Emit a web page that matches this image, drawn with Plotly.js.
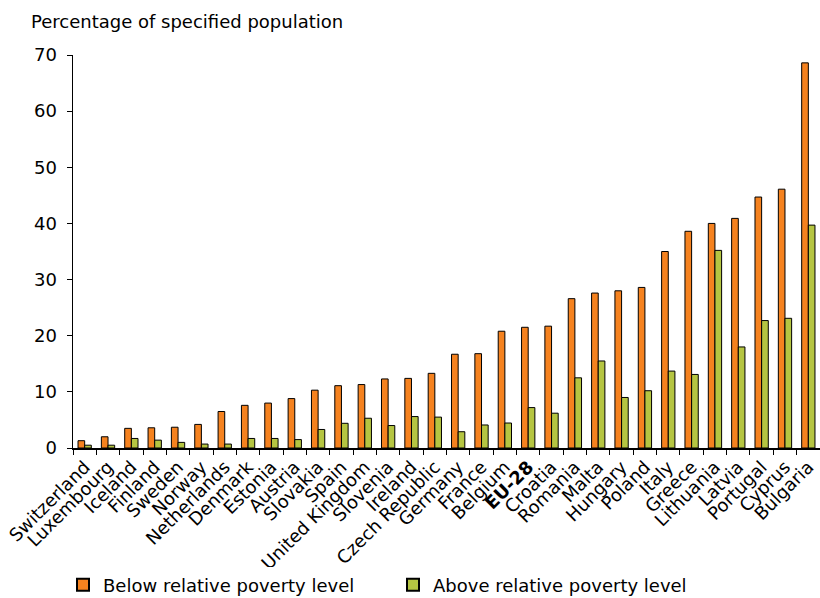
<!DOCTYPE html>
<html>
<head>
<meta charset="utf-8">
<script src="https://cdn.plot.ly/plotly-3.0.1.min.js"></script>
<style>html,body{margin:0;padding:0;background:#fff;}#chart{width:820px;height:598px;}</style>
</head>
<body>
<div id="chart"></div>
<script>
const countries = ["Switzerland","Luxembourg","Iceland","Finland","Sweden","Norway","Netherlands","Denmark","Estonia","Austria","Slovakia","Spain","United Kingdom","Slovenia","Ireland","Czech Republic","Germany","France","Belgium","EU-28","Croatia","Romania","Malta","Hungary","Poland","Italy","Greece","Lithuania","Latvia","Portugal","Cyprus","Bulgaria"];
const tickLabels = ["Switzerland","Luxembourg","Iceland","Finland","Sweden","Norway","Netherlands","Denmark","Estonia","Austria","Slovakia","Spain","United Kingdom","Slovenia","Ireland","Czech Republic","Germany","France","Belgium","<b>EU-28</b>","Croatia","Romania","Malta","Hungary","Poland","Italy","Greece","Lithuania","Latvia","Portugal","Cyprus","Bulgaria"];
const below = [1.3,2.0,3.5,3.6,3.7,4.2,6.5,7.6,8.0,8.8,10.3,11.1,11.3,12.3,12.4,13.3,16.7,16.8,20.8,21.5,21.7,26.6,27.6,28.0,28.6,35.0,38.6,40.0,40.9,44.7,46.1,68.6];
const above = [0.5,0.5,1.7,1.4,1.0,0.7,0.7,1.7,1.7,1.5,3.3,4.4,5.3,4.0,5.6,5.5,2.9,4.1,4.45,7.2,6.2,12.5,15.5,9.0,10.2,13.7,13.1,35.2,18.0,22.7,23.1,39.7];
const seriesNames = ["Below relative poverty level","Above relative poverty level"];

const font = "DejaVu Sans, Verdana, sans-serif";
const data = [
  {type:"bar", x:countries, y:below, name:seriesNames[0],
   marker:{color:"#F5821F", line:{color:"#000", width:1}}},
  {type:"bar", x:countries, y:above, name:seriesNames[1],
   marker:{color:"#B5C542", line:{color:"#000", width:1}}}
];
const layout = {
  width:820, height:598,
  margin:{l:73, r:0, t:55, b:150},
  paper_bgcolor:"#fff", plot_bgcolor:"#fff",
  font:{family:font, color:"#000", size:18},
  barmode:"group", bargap:0.43, bargroupgap:0,
  title:{text:"Percentage of specified population", font:{family:font, size:18, color:"#000"},
         xref:"container", x:31/820, xanchor:"left", yref:"container", y:1-22/598, yanchor:"middle"},
  xaxis:{type:"category", tickvals:countries, ticktext:tickLabels, tickangle:-45, automargin:false,
         showline:true, linecolor:"#000", linewidth:1.5, ticks:"outside", tickson:"boundaries",
         ticklen:5, tickcolor:"#000", showgrid:false, zeroline:false,
         tickfont:{family:font, size:18, color:"#000"}, range:[-0.5,31.5]},
  yaxis:{range:[0,70], dtick:10, showline:true, linecolor:"#000", linewidth:1.5, automargin:false,
         ticks:"outside", ticklen:5, tickcolor:"#000", showgrid:false, zeroline:false,
         ticklabelstandoff:6, tickfont:{family:font, size:18, color:"#000"}},
  showlegend:true,
  legend:{orientation:"h", xref:"container", x:63/820, xanchor:"left",
          yref:"container", y:1-585/598, yanchor:"middle",
          font:{family:font, size:18, color:"#000"}, entrywidth:285, entrywidthmode:"pixels",
          itemsizing:"constant", traceorder:"normal"}
};
Plotly.newPlot("chart", data, layout, {displayModeBar:false, staticPlot:true});
</script>
</body>
</html>
